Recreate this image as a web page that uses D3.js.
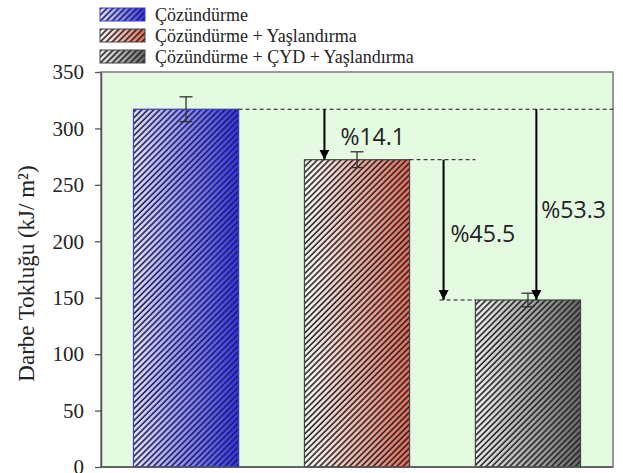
<!DOCTYPE html>
<html>
<head>
<meta charset="utf-8">
<script src="https://cdn.jsdelivr.net/npm/d3@7"></script>
<style>
  body { margin: 0; background: #fff; }
  svg { display: block; }
</style>
</head>
<body>
<svg id="chart" width="623" height="473"></svg>
<script>
// veriler
var categories = ["Çözündürme", "Çözündürme + Yaşlandırma", "Çözündürme + ÇYD + Yaşlandırma"];
var values = [317, 272.3, 148];
var errors = [11, 7, 6];
var percentLabels = ["%14.1", "%45.5", "%53.3"];
var yTicks = [0, 50, 100, 150, 200, 250, 300, 350];

// renkler (gradyan başlangıç / bitiş, tarama, kenar)
var gradStart = ["#e6e6ff", "#ffffff", "#f2f2f2"];
var gradEnd = ["#3434ee", "#e86c5a", "#6a6a6a"];
var hatchColor = ["#1c1c55", "#222222", "#222222"];
var edgeColor = ["#3a3ad0", "#444444", "#444444"];

var margin = {top: 72, right: 10, bottom: 6, left: 101},
    width = 613 - margin.left,
    height = 467 - margin.top;

var svg = d3.select("#chart");
var defs = svg.append("defs");

// gradyanlar ve tarama desenleri
categories.forEach(function(c, i) {
  var g = defs.append("linearGradient")
      .attr("id", "grad" + i)
      .attr("x1", "0%").attr("x2", "100%").attr("y1", "0%").attr("y2", "0%");
  g.append("stop").attr("offset", "0%").attr("stop-color", gradStart[i]);
  g.append("stop").attr("offset", "100%").attr("stop-color", gradEnd[i]);

  var p = defs.append("pattern")
      .attr("id", "hatch" + i)
      .attr("patternUnits", "userSpaceOnUse")
      .attr("width", 4.2).attr("height", 4.2)
      .attr("patternTransform", "rotate(45)");
  p.append("line")
      .attr("x1", 1).attr("y1", -1).attr("x2", 1).attr("y2", 6)
      .attr("stroke", hatchColor[i])
      .attr("stroke-width", 1.6);
});

var chart = svg.append("g")
    .attr("transform", "translate(" + margin.left + "," + margin.top + ")");

// arka plan
chart.append("rect")
    .attr("width", width)
    .attr("height", height)
    .attr("fill", "#e4fbe2")
    .attr("stroke", "#7a7a7a")
    .attr("stroke-width", 1.5);

var x = d3.scaleBand()
    .domain(categories)
    .range([0, width])
    .paddingInner(0.385)
    .paddingOuter(0.19);

var y = d3.scaleLinear()
    .domain([0, 350])
    .range([height, 0]);

// sütunlar
var bars = chart.selectAll("g.bar")
    .data(categories)
  .enter().append("g")
    .attr("class", "bar");

bars.append("rect")
    .attr("x", function(d) { return x(d); })
    .attr("y", function(d, i) { return y(values[i]); })
    .attr("width", x.bandwidth())
    .attr("height", function(d, i) { return height - y(values[i]); })
    .attr("fill", function(d, i) { return "url(#grad" + i + ")"; });

bars.append("rect")
    .attr("x", function(d) { return x(d); })
    .attr("y", function(d, i) { return y(values[i]); })
    .attr("width", x.bandwidth())
    .attr("height", function(d, i) { return height - y(values[i]); })
    .attr("fill", function(d, i) { return "url(#hatch" + i + ")"; })
    .attr("stroke", function(d, i) { return edgeColor[i]; })
    .attr("stroke-width", 1.2);

// hata çubukları
var eb = chart.selectAll("g.err")
    .data(categories)
  .enter().append("g")
    .attr("class", "err")
    .attr("stroke", "#333")
    .attr("stroke-width", 1.3);

eb.append("line")
    .attr("x1", function(d) { return x(d) + x.bandwidth() / 2; })
    .attr("x2", function(d) { return x(d) + x.bandwidth() / 2; })
    .attr("y1", function(d, i) { return y(values[i] + errors[i]); })
    .attr("y2", function(d, i) { return y(values[i] - errors[i]); });
[1, -1].forEach(function(s) {
  eb.append("line")
      .attr("x1", function(d) { return x(d) + x.bandwidth() / 2 - 6.5; })
      .attr("x2", function(d) { return x(d) + x.bandwidth() / 2 + 6.5; })
      .attr("y1", function(d, i) { return y(values[i] + s * errors[i]); })
      .attr("y2", function(d, i) { return y(values[i] + s * errors[i]); });
});

// eksen
var yAxis = chart.append("g")
    .call(d3.axisLeft(y).tickValues(yTicks).tickSize(6).tickSizeOuter(0).tickPadding(11));
yAxis.select(".domain").attr("stroke", "#555").attr("stroke-width", 1.5);
yAxis.selectAll(".tick line").attr("stroke", "#555").attr("stroke-width", 1.3);
yAxis.selectAll(".tick text")
    .attr("font-family", "'Liberation Serif', 'Times New Roman', serif")
    .attr("font-size", 21)
    .attr("fill", "#222");

chart.append("line")
    .attr("x1", 0).attr("x2", width)
    .attr("y1", height).attr("y2", height)
    .attr("stroke", "#555").attr("stroke-width", 1.5);

svg.append("text")
    .attr("transform", "translate(34," + (margin.top + height * 0.5 + 4) + ") rotate(-90)")
    .attr("text-anchor", "middle")
    .attr("font-family", "'Liberation Serif', 'Times New Roman', serif")
    .attr("font-size", 23)
    .attr("fill", "#222")
    .text("Darbe Tokluğu (kJ/ m²)");

// kesikli çizgiler ve oklar
defs.append("marker")
    .attr("id", "arrow")
    .attr("viewBox", "0 0 10 10")
    .attr("refX", 10).attr("refY", 5)
    .attr("markerWidth", 5).attr("markerHeight", 5)
    .attr("markerUnits", "strokeWidth")
    .attr("orient", "auto")
  .append("path")
    .attr("d", "M0,0 L10,5 L0,10 Z")
    .attr("fill", "#000");

var c0 = categories[0], c1 = categories[1], c2 = categories[2];
var bw = x.bandwidth();

var dashes = [
  {x1: x(c0) + bw, x2: width, v: values[0]},
  {x1: x(c1) + bw, x2: x(c2), v: values[1]},
  {x1: x(c1) + bw + 30, x2: x(c2), v: values[2]}
];
chart.selectAll("line.dash")
    .data(dashes)
  .enter().append("line")
    .attr("class", "dash")
    .attr("x1", function(d) { return d.x1; })
    .attr("x2", function(d) { return d.x2; })
    .attr("y1", function(d) { return y(d.v); })
    .attr("y2", function(d) { return y(d.v); })
    .attr("stroke", "#111")
    .attr("stroke-width", 1)
    .attr("stroke-dasharray", "4,3");

var arrows = [
  {x: x(c1) + 20, from: values[0], to: values[1], label: percentLabels[0], dx: 16, ly: 285},
  {x: x(c1) + bw + 34, from: values[1], to: values[2], label: percentLabels[1], dx: 7, ly: 199},
  {x: x(c2) + bw * 0.58, from: values[0], to: values[2], label: percentLabels[2], dx: 5, ly: 221}
];
chart.selectAll("line.arrow")
    .data(arrows)
  .enter().append("line")
    .attr("class", "arrow")
    .attr("x1", function(d) { return d.x; })
    .attr("x2", function(d) { return d.x; })
    .attr("y1", function(d) { return y(d.from); })
    .attr("y2", function(d) { return y(d.to); })
    .attr("stroke", "#000")
    .attr("stroke-width", 2)
    .attr("marker-end", "url(#arrow)");

chart.selectAll("text.pct")
    .data(arrows)
  .enter().append("text")
    .attr("class", "pct")
    .attr("x", function(d) { return d.x + d.dx; })
    .attr("y", function(d) { return y(d.ly); })
    .attr("font-family", "'Open Sans', sans-serif")
    .attr("font-size", 23)
    .attr("fill", "#222")
    .text(function(d) { return d.label; });

// lejant
var legend = svg.append("g")
    .attr("transform", "translate(100,8)");
var item = legend.selectAll("g")
    .data(categories)
  .enter().append("g")
    .attr("transform", function(d, i) { return "translate(0," + (i * 21) + ")"; });
item.append("rect")
    .attr("width", 45).attr("height", 13)
    .attr("fill", function(d, i) { return "url(#grad" + i + ")"; });
item.append("rect")
    .attr("width", 45).attr("height", 13)
    .attr("fill", function(d, i) { return "url(#hatch" + i + ")"; })
    .attr("stroke", function(d, i) { return edgeColor[i]; })
    .attr("stroke-width", 1);
item.append("text")
    .attr("x", 55).attr("y", 12.5)
    .attr("font-family", "'Liberation Serif', 'Times New Roman', serif")
    .attr("font-size", 18)
    .attr("fill", "#222")
    .text(function(d) { return d; });
</script>
</body>
</html>
